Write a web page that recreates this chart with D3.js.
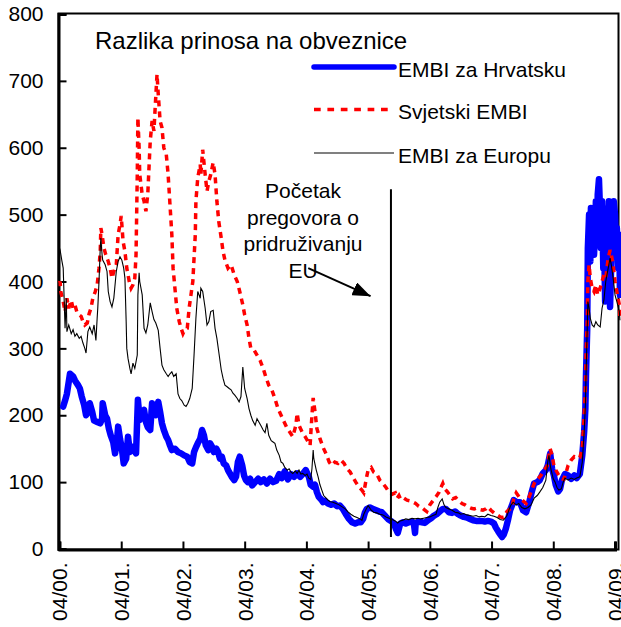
<!DOCTYPE html>
<html>
<head>
<meta charset="utf-8">
<script src="https://cdn.jsdelivr.net/npm/d3@7"></script>
<style>
  body { margin: 0; background: #fff; }
  text { font-family: "Liberation Sans", Arial, sans-serif; fill: #000; }
</style>
</head>
<body>
<div id="chart"></div>
<script>
// spread, basis points; dates as decimal years
const hrvatska = [[2000.31,213],[2000.34,222],[2000.37,232],[2000.42,262],[2000.47,258],[2000.50,252],[2000.55,245],[2000.58,240],[2000.61,228],[2000.65,215],[2000.68,200],[2000.71,205],[2000.74,218],[2000.78,205],[2000.81,192],[2000.86,190],[2000.91,188],[2000.94,195],[2000.95,218],[2000.99,200],[2001.02,195],[2001.05,180],[2001.08,170],[2001.12,160],[2001.15,143],[2001.18,160],[2001.20,183],[2001.23,165],[2001.26,150],[2001.29,128],[2001.33,135],[2001.36,168],[2001.39,145],[2001.42,153],[2001.46,147],[2001.49,143],[2001.52,223],[2001.55,193],[2001.59,205],[2001.62,208],[2001.65,190],[2001.68,182],[2001.72,178],[2001.75,218],[2001.78,208],[2001.81,200],[2001.85,220],[2001.88,205],[2001.91,188],[2001.94,178],[2001.98,168],[2002.01,163],[2002.04,155],[2002.07,148],[2002.12,150],[2002.17,145],[2002.22,143],[2002.27,140],[2002.32,138],[2002.36,130],[2002.40,128],[2002.43,145],[2002.46,152],[2002.49,158],[2002.53,165],[2002.56,178],[2002.59,170],[2002.62,155],[2002.66,148],[2002.69,158],[2002.72,153],[2002.75,145],[2002.79,150],[2002.82,145],[2002.85,135],[2002.88,138],[2002.91,128],[2002.95,125],[2002.98,118],[2003.01,113],[2003.04,108],[2003.08,103],[2003.11,108],[2003.14,130],[2003.17,138],[2003.21,125],[2003.24,110],[2003.27,103],[2003.30,100],[2003.34,105],[2003.37,95],[2003.42,100],[2003.47,105],[2003.51,100],[2003.56,104],[2003.61,98],[2003.66,105],[2003.71,100],[2003.76,102],[2003.81,112],[2003.85,106],[2003.90,116],[2003.95,104],[2004.00,112],[2004.05,108],[2004.10,113],[2004.15,108],[2004.19,112],[2004.24,118],[2004.29,108],[2004.32,96],[2004.36,93],[2004.39,96],[2004.42,85],[2004.45,78],[2004.49,74],[2004.52,70],[2004.55,72],[2004.60,68],[2004.65,66],[2004.70,68],[2004.75,64],[2004.79,65],[2004.84,60],[2004.89,52],[2004.94,45],[2004.99,40],[2005.04,38],[2005.09,40],[2005.13,40],[2005.17,45],[2005.20,55],[2005.23,60],[2005.28,62],[2005.33,60],[2005.38,58],[2005.43,56],[2005.47,55],[2005.52,50],[2005.57,45],[2005.62,42],[2005.67,38],[2005.70,30],[2005.73,24],[2005.77,38],[2005.81,40],[2005.86,38],[2005.91,40],[2005.96,41],[2005.99,39],[2006.01,24],[2006.02,38],[2006.07,41],[2006.12,40],[2006.17,39],[2006.22,43],[2006.27,46],[2006.32,50],[2006.36,52],[2006.41,56],[2006.46,60],[2006.51,60],[2006.56,55],[2006.61,54],[2006.66,56],[2006.71,52],[2006.75,50],[2006.80,48],[2006.85,47],[2006.90,45],[2006.95,43],[2007.00,42],[2007.05,42],[2007.09,42],[2007.14,41],[2007.19,42],[2007.24,41],[2007.29,38],[2007.32,32],[2007.36,26],[2007.39,22],[2007.42,18],[2007.45,22],[2007.48,30],[2007.52,45],[2007.55,58],[2007.58,65],[2007.61,73],[2007.66,70],[2007.71,70],[2007.76,58],[2007.81,55],[2007.86,70],[2007.90,85],[2007.94,98],[2007.99,100],[2008.03,103],[2008.08,113],[2008.13,118],[2008.16,125],[2008.20,143],[2008.23,120],[2008.26,110],[2008.29,96],[2008.33,86],[2008.36,90],[2008.39,103],[2008.44,112],[2008.49,110],[2008.54,105],[2008.59,110],[2008.63,106],[2008.68,112],[2008.72,140],[2008.75,175],[2008.77,210],[2008.78,260],[2008.80,330],[2008.81,450],[2008.83,500],[2008.85,430],[2008.86,510],[2008.88,460],[2008.89,505],[2008.91,440],[2008.93,480],[2008.94,520],[2008.96,470],[2008.97,530],[2008.99,553],[2009.01,500],[2009.02,450],[2009.04,520],[2009.06,420],[2009.07,480],[2009.09,370],[2009.10,460],[2009.12,510],[2009.14,480],[2009.15,520],[2009.17,362],[2009.19,430],[2009.20,515],[2009.22,470],[2009.23,520],[2009.25,500],[2009.27,450],[2009.28,480],[2009.30,420],[2009.32,470],[2009.33,380]];

const svjetski = [[2000.25,398],[2000.26,400],[2000.27,385],[2000.31,370],[2000.34,355],[2000.37,375],[2000.40,360],[2000.44,372],[2000.47,360],[2000.50,365],[2000.53,355],[2000.57,350],[2000.60,348],[2000.63,340],[2000.66,335],[2000.70,338],[2000.73,352],[2000.76,360],[2000.79,375],[2000.83,385],[2000.86,395],[2000.89,420],[2000.91,445],[2000.92,480],[2000.94,470],[2000.97,450],[2001.00,440],[2001.04,430],[2001.07,420],[2001.10,405],[2001.13,415],[2001.17,425],[2001.20,470],[2001.23,485],[2001.25,498],[2001.28,460],[2001.31,445],[2001.34,420],[2001.38,400],[2001.41,390],[2001.44,395],[2001.47,405],[2001.49,440],[2001.51,560],[2001.52,645],[2001.54,600],[2001.55,560],[2001.59,530],[2001.62,520],[2001.65,505],[2001.68,530],[2001.72,610],[2001.75,640],[2001.78,625],[2001.80,660],[2001.83,710],[2001.85,680],[2001.88,640],[2001.91,630],[2001.94,600],[2001.98,590],[2002.01,560],[2002.04,515],[2002.07,470],[2002.09,420],[2002.12,390],[2002.15,360],[2002.19,340],[2002.22,330],[2002.25,322],[2002.28,328],[2002.32,330],[2002.35,360],[2002.38,380],[2002.41,400],[2002.45,470],[2002.46,520],[2002.49,555],[2002.53,575],[2002.54,560],[2002.57,597],[2002.61,560],[2002.64,535],[2002.67,550],[2002.70,560],[2002.74,578],[2002.77,560],[2002.80,520],[2002.83,490],[2002.87,465],[2002.90,445],[2002.93,432],[2002.98,420],[2003.03,425],[2003.08,410],[2003.13,400],[2003.17,385],[2003.22,365],[2003.25,350],[2003.29,335],[2003.32,315],[2003.35,300],[2003.40,298],[2003.45,290],[2003.50,282],[2003.55,270],[2003.59,258],[2003.64,245],[2003.69,238],[2003.74,225],[2003.79,210],[2003.84,200],[2003.89,190],[2003.94,180],[2003.98,175],[2004.03,168],[2004.08,185],[2004.10,203],[2004.13,185],[2004.18,175],[2004.23,168],[2004.28,160],[2004.31,155],[2004.34,200],[2004.36,226],[2004.39,205],[2004.42,180],[2004.47,165],[2004.52,152],[2004.57,142],[2004.62,130],[2004.66,125],[2004.71,130],[2004.76,128],[2004.81,133],[2004.86,128],[2004.91,120],[2004.96,115],[2005.00,108],[2005.05,100],[2005.10,93],[2005.15,88],[2005.18,84],[2005.22,105],[2005.25,118],[2005.30,122],[2005.34,115],[2005.39,112],[2005.44,103],[2005.49,98],[2005.54,92],[2005.59,85],[2005.64,82],[2005.69,84],[2005.72,76],[2005.75,80],[2005.78,74],[2005.83,76],[2005.88,73],[2005.93,72],[2005.98,70],[2006.02,68],[2006.07,64],[2006.12,62],[2006.17,58],[2006.20,56],[2006.25,66],[2006.30,72],[2006.35,78],[2006.40,85],[2006.43,92],[2006.46,98],[2006.49,90],[2006.53,86],[2006.58,80],[2006.62,75],[2006.67,77],[2006.72,72],[2006.77,68],[2006.82,66],[2006.87,63],[2006.92,61],[2006.97,60],[2007.01,61],[2007.06,59],[2007.11,58],[2007.16,60],[2007.19,63],[2007.24,58],[2007.29,54],[2007.34,51],[2007.39,48],[2007.44,47],[2007.47,52],[2007.50,56],[2007.55,60],[2007.58,63],[2007.61,75],[2007.65,84],[2007.68,80],[2007.71,76],[2007.76,72],[2007.81,68],[2007.86,78],[2007.90,88],[2007.95,100],[2008.00,105],[2008.05,110],[2008.10,118],[2008.15,124],[2008.18,140],[2008.20,150],[2008.23,140],[2008.26,125],[2008.29,118],[2008.33,112],[2008.38,105],[2008.42,104],[2008.46,115],[2008.49,125],[2008.54,133],[2008.59,138],[2008.63,136],[2008.68,137],[2008.72,150],[2008.75,200],[2008.77,240],[2008.78,290],[2008.80,340],[2008.81,400],[2008.83,425],[2008.85,405],[2008.88,390],[2008.91,385],[2008.94,395],[2008.97,380],[2009.01,390],[2009.04,400],[2009.07,410],[2009.10,405],[2009.14,435],[2009.17,447],[2009.19,440],[2009.22,425],[2009.25,400],[2009.28,385],[2009.32,365],[2009.33,345]];

const europa = [[2000.25,450],[2000.26,447],[2000.29,430],[2000.31,420],[2000.34,330],[2000.36,375],[2000.37,325],[2000.40,335],[2000.44,322],[2000.47,328],[2000.50,318],[2000.53,322],[2000.57,315],[2000.60,318],[2000.63,308],[2000.66,300],[2000.68,293],[2000.71,325],[2000.74,332],[2000.78,322],[2000.81,335],[2000.84,312],[2000.86,345],[2000.87,360],[2000.89,400],[2000.91,450],[2000.92,465],[2000.94,440],[2000.95,432],[2000.99,425],[2001.02,415],[2001.04,385],[2001.07,370],[2001.10,362],[2001.13,375],[2001.17,415],[2001.20,430],[2001.23,437],[2001.26,432],[2001.29,420],[2001.31,405],[2001.33,340],[2001.34,300],[2001.36,285],[2001.39,270],[2001.41,262],[2001.44,278],[2001.47,270],[2001.51,290],[2001.52,380],[2001.54,413],[2001.55,400],[2001.59,380],[2001.62,330],[2001.65,323],[2001.68,335],[2001.72,368],[2001.75,355],[2001.78,343],[2001.81,338],[2001.85,327],[2001.88,300],[2001.91,275],[2001.94,268],[2001.98,262],[2002.01,258],[2002.04,262],[2002.07,265],[2002.10,258],[2002.14,262],[2002.17,232],[2002.20,225],[2002.23,222],[2002.27,215],[2002.30,213],[2002.33,218],[2002.36,225],[2002.40,240],[2002.43,290],[2002.46,345],[2002.49,385],[2002.53,375],[2002.54,390],[2002.57,385],[2002.61,360],[2002.64,335],[2002.67,340],[2002.70,355],[2002.74,357],[2002.77,330],[2002.80,315],[2002.83,295],[2002.87,268],[2002.90,255],[2002.93,245],[2002.96,243],[2003.00,240],[2003.03,238],[2003.06,233],[2003.09,230],[2003.13,225],[2003.16,220],[2003.19,228],[2003.22,272],[2003.25,240],[2003.29,225],[2003.32,210],[2003.35,200],[2003.38,192],[2003.42,185],[2003.45,195],[2003.48,190],[2003.51,185],[2003.55,178],[2003.58,174],[2003.61,188],[2003.64,170],[2003.68,162],[2003.71,160],[2003.74,158],[2003.77,148],[2003.81,140],[2003.84,130],[2003.87,128],[2003.90,122],[2003.94,118],[2003.97,120],[2004.00,115],[2004.03,113],[2004.07,117],[2004.10,113],[2004.13,118],[2004.16,112],[2004.19,113],[2004.23,110],[2004.26,112],[2004.29,106],[2004.32,104],[2004.34,120],[2004.36,148],[2004.37,135],[2004.41,118],[2004.44,108],[2004.47,96],[2004.50,88],[2004.53,80],[2004.57,76],[2004.60,73],[2004.63,71],[2004.68,70],[2004.73,68],[2004.78,66],[2004.83,63],[2004.88,60],[2004.92,56],[2004.97,52],[2005.02,49],[2005.07,47],[2005.12,45],[2005.15,43],[2005.18,52],[2005.22,60],[2005.25,65],[2005.30,58],[2005.34,55],[2005.39,54],[2005.44,52],[2005.49,51],[2005.54,48],[2005.59,46],[2005.64,44],[2005.69,42],[2005.73,39],[2005.77,42],[2005.81,43],[2005.86,45],[2005.91,44],[2005.96,46],[2006.01,45],[2006.06,46],[2006.10,45],[2006.15,46],[2006.20,47],[2006.25,48],[2006.30,50],[2006.35,52],[2006.38,62],[2006.41,70],[2006.45,75],[2006.48,66],[2006.51,62],[2006.56,60],[2006.61,58],[2006.66,55],[2006.71,54],[2006.75,52],[2006.80,53],[2006.85,51],[2006.90,50],[2006.95,49],[2007.00,50],[2007.05,48],[2007.09,49],[2007.14,48],[2007.19,52],[2007.24,50],[2007.29,49],[2007.34,47],[2007.39,44],[2007.44,43],[2007.47,46],[2007.50,50],[2007.53,58],[2007.56,65],[2007.60,70],[2007.65,66],[2007.69,68],[2007.74,62],[2007.79,60],[2007.84,62],[2007.89,66],[2007.94,76],[2007.99,80],[2008.03,85],[2008.08,92],[2008.13,103],[2008.16,130],[2008.18,140],[2008.21,120],[2008.25,105],[2008.28,100],[2008.31,92],[2008.34,88],[2008.38,90],[2008.41,100],[2008.44,106],[2008.49,103],[2008.54,106],[2008.59,104],[2008.63,106],[2008.68,108],[2008.72,130],[2008.75,175],[2008.77,215],[2008.78,258],[2008.80,330],[2008.81,370],[2008.83,360],[2008.85,345],[2008.88,335],[2008.91,332],[2008.94,340],[2008.97,335],[2009.01,332],[2009.04,360],[2009.07,372],[2009.10,400],[2009.14,420],[2009.17,435],[2009.19,425],[2009.22,405],[2009.25,380],[2009.28,370],[2009.32,355],[2009.33,342]];

const seriesNames = ["EMBI za Hrvatsku", "Svjetski EMBI", "EMBI za Europu"];
const yTicks = [0, 100, 200, 300, 400, 500, 600, 700, 800];
const xTicks = [2000.25, 2001.25, 2002.25, 2003.25, 2004.25, 2005.25, 2006.25, 2007.25, 2008.25, 2009.25];
const noteLines = ["Početak", "pregovora o", "pridruživanju", "EU"];
const pregovori = 2005.62;

let width = 621, height = 627;

let svg = d3.select("#chart").append("svg")
  .attr("width", width)
  .attr("height", height);

let x = d3.scaleLinear().domain([2000.25, 2009.25]).range([59.5, 615]);
let y = d3.scaleLinear().domain([0, 800]).range([549, 14]);

// frame
svg.append("rect")
  .attr("x", 58.5).attr("y", 13.5)
  .attr("width", 560).attr("height", 536)
  .attr("fill", "none").attr("stroke", "#000").attr("stroke-width", 2);

// y axis
let yAxis = svg.append("g")
  .attr("transform", "translate(58.5,0)")
  .call(d3.axisLeft(y).tickValues(yTicks).tickSize(-8).tickPadding(15));
yAxis.select(".domain").attr("stroke-width", 3);
yAxis.selectAll(".tick line").attr("stroke-width", 2);
yAxis.selectAll("text").style("font-size", "21px").attr("fill", "#000");

// x axis
let xAxis = svg.append("g")
  .attr("transform", "translate(0,549.5)")
  .call(d3.axisBottom(x).tickValues(xTicks).tickSize(-8)
    .tickFormat(d => "04/" + String(Math.floor(d) % 100).padStart(2, "0") + "."));
xAxis.select(".domain").attr("stroke-width", 3);
xAxis.selectAll(".tick line").attr("stroke-width", 2);
xAxis.selectAll("text")
  .style("font-size", "21px").attr("fill", "#000")
  .attr("transform", "rotate(-90)")
  .attr("text-anchor", "end")
  .attr("x", -13).attr("y", 0).attr("dy", "0.35em");

let line = d3.line().x(d => x(d[0])).y(d => y(d[1]));

svg.append("path").datum(hrvatska)
  .attr("d", line).attr("fill", "none")
  .attr("stroke", "#0000ff").attr("stroke-width", 6.5)
  .attr("stroke-linejoin", "round").attr("stroke-linecap", "round");

svg.append("path").datum(svjetski)
  .attr("d", line).attr("fill", "none")
  .attr("stroke", "#ff0000").attr("stroke-width", 3.5)
  .attr("stroke-dasharray", "6,5");

svg.append("path").datum(europa)
  .attr("d", line).attr("fill", "none")
  .attr("stroke", "#000").attr("stroke-width", 1.1);

// vertical line, start of negotiations
svg.append("line")
  .attr("x1", x(pregovori)).attr("x2", x(pregovori))
  .attr("y1", y(18)).attr("y2", y(538))
  .attr("stroke", "#000").attr("stroke-width", 2);

// title
svg.append("text").attr("x", 95).attr("y", 49)
  .style("font-size", "24px").text("Razlika prinosa na obveznice");

// legend
let legY = [67, 109.5, 153];
let legStyle = [
  { c: "#0000ff", w: 5.5, dash: null, cap: "round" },
  { c: "#ff0000", w: 3.5, dash: "6.7,6.7", cap: "butt" },
  { c: "#808080", w: 2, dash: null, cap: "butt" }
];
seriesNames.forEach((name, i) => {
  svg.append("line")
    .attr("x1", 314).attr("x2", 394)
    .attr("y1", legY[i]).attr("y2", legY[i])
    .attr("stroke", legStyle[i].c).attr("stroke-width", legStyle[i].w)
    .attr("stroke-dasharray", legStyle[i].dash)
    .attr("stroke-linecap", legStyle[i].cap);
  svg.append("text").attr("x", 398).attr("y", legY[i] + 9.5)
    .style("font-size", "21px").text(name);
});

// annotation
noteLines.forEach((t, i) => {
  svg.append("text").attr("x", 303).attr("y", 198 + i * 26.5)
    .attr("text-anchor", "middle").style("font-size", "21px").text(t);
});

svg.append("defs").append("marker")
  .attr("id", "arrow").attr("markerUnits", "userSpaceOnUse")
  .attr("markerWidth", 18).attr("markerHeight", 14)
  .attr("refX", 18).attr("refY", 7).attr("orient", "auto")
  .append("path").attr("d", "M0,0 L18,7 L0,14 Z").attr("fill", "#000");

svg.append("line")
  .attr("x1", x(2004.28)).attr("y1", y(420))
  .attr("x2", x(2005.29)).attr("y2", y(378))
  .attr("stroke", "#000").attr("stroke-width", 2)
  .attr("marker-end", "url(#arrow)");
</script>
</body>
</html>
